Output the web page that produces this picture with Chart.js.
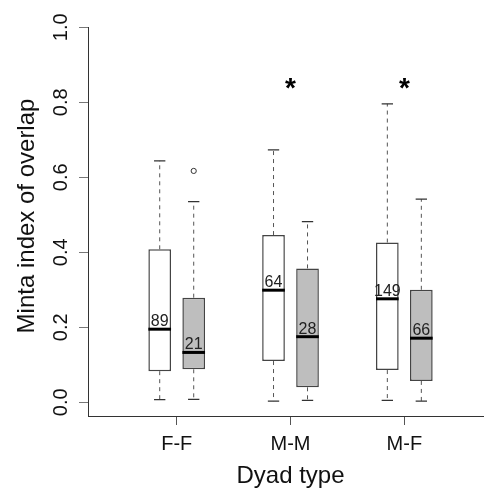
<!DOCTYPE html>
<html>
<head>
<meta charset="utf-8">
<script src="https://cdn.jsdelivr.net/npm/chart.js@4"></script>
<style>
html,body{margin:0;padding:0;background:#fff;}
#wrap{width:484px;height:489px;position:relative;}
</style>
</head>
<body>
<div id="wrap"><canvas id="c" width="484" height="489"></canvas></div>
<script>
// ---- data ----
const categories = ['F-F', 'M-M', 'M-F'];
const catPos = [1, 2, 3];
const yTickValues = [0, 0.2, 0.4, 0.6, 0.8, 1.0];
const yTickLabels = ['0.0', '0.2', '0.4', '0.6', '0.8', '1.0'];

// white boxes
const aMin    = [0.007, 0.003, 0.005];
const aQ1     = [0.083, 0.110, 0.086];
const aMedian = [0.195, 0.299, 0.276];
const aQ3     = [0.408, 0.446, 0.426];
const aMax    = [0.644, 0.673, 0.796];
const aN      = [89, 64, 149];
const aOut    = [[], [], []];

// grey boxes
const bMin    = [0.008, 0.005, 0.003];
const bQ1     = [0.088, 0.040, 0.057];
const bMedian = [0.133, 0.175, 0.171];
const bQ3     = [0.279, 0.357, 0.300];
const bMax    = [0.535, 0.482, 0.542];
const bN      = [21, 28, 66];
const bOut    = [[0.617], [], []];

const signif  = ['', '*', '*'];
const signifY = 0.848;

const yTitle = 'Minta index of overlap';
const xTitle = 'Dyad type';

const FONT = "'Liberation Sans', Arial, sans-serif";

const stats = [
  {min:aMin,q1:aQ1,med:aMedian,q3:aQ3,max:aMax,n:aN,out:aOut},
  {min:bMin,q1:bQ1,med:bMedian,q3:bQ3,max:bMax,n:bN,out:bOut}
];

const boxPlugin = {
  id: 'boxExtras',
  afterDatasetsDraw(chart) {
    const ctx = chart.ctx;
    const ys = chart.scales.y, xs = chart.scales.x;
    ctx.save();
    stats.forEach((s, d) => {
      const meta = chart.getDatasetMeta(d);
      meta.data.forEach((bar, i) => {
        const x = bar.x, w = bar.width;
        const pMin = ys.getPixelForValue(s.min[i]);
        const pQ1 = ys.getPixelForValue(s.q1[i]);
        const pMed = ys.getPixelForValue(s.med[i]);
        const pQ3 = ys.getPixelForValue(s.q3[i]);
        const pMax = ys.getPixelForValue(s.max[i]);
        // whiskers (dashed)
        ctx.strokeStyle = '#555';
        ctx.lineWidth = 1;
        ctx.setLineDash([4, 4]);
        ctx.beginPath();
        ctx.moveTo(x, pQ3); ctx.lineTo(x, pMax);
        ctx.moveTo(x, pQ1); ctx.lineTo(x, pMin);
        ctx.stroke();
        ctx.setLineDash([]);
        // caps
        ctx.strokeStyle = '#333';
        ctx.lineWidth = 1.2;
        ctx.beginPath();
        ctx.moveTo(x - w / 4, pMax); ctx.lineTo(x + w / 4, pMax);
        ctx.moveTo(x - w / 4, pMin); ctx.lineTo(x + w / 4, pMin);
        ctx.stroke();
        // median
        ctx.strokeStyle = '#000';
        ctx.lineWidth = 3;
        ctx.beginPath();
        ctx.moveTo(x - w / 2, pMed); ctx.lineTo(x + w / 2, pMed);
        ctx.stroke();
        // outliers
        s.out[i].forEach(v => {
          const py = ys.getPixelForValue(v);
          ctx.beginPath();
          ctx.arc(x, py, 2.6, 0, Math.PI * 2);
          ctx.fillStyle = '#fff';
          ctx.fill();
          ctx.strokeStyle = '#333';
          ctx.lineWidth = 1;
          ctx.stroke();
        });
        // count label
        ctx.fillStyle = '#222';
        ctx.font = '16px ' + FONT;
        ctx.textAlign = 'center';
        ctx.textBaseline = 'alphabetic';
        ctx.fillText(String(s.n[i]), x, pMed - 3);
      });
    });
    // significance stars
    ctx.fillStyle = '#000';
    ctx.font = 'bold 28px ' + FONT;
    ctx.textAlign = 'center';
    ctx.textBaseline = 'middle';
    signif.forEach((t, i) => {
      if (!t) return;
      ctx.fillText(t, xs.getPixelForValue(catPos[i]), ys.getPixelForValue(signifY) + 5);
    });
    ctx.restore();
  },
  afterDraw(chart) {
    const ctx = chart.ctx;
    const ys = chart.scales.y, xs = chart.scales.x;
    ctx.save();
    ctx.fillStyle = '#111';
    // y tick labels (rotated)
    ctx.font = '20px ' + FONT;
    ctx.textAlign = 'center';
    ctx.textBaseline = 'alphabetic';
    yTickValues.forEach((v, i) => {
      const py = ys.getPixelForValue(v);
      ctx.save();
      ctx.translate(67, py);
      ctx.rotate(-Math.PI / 2);
      ctx.fillText(yTickLabels[i], 0, 0);
      ctx.restore();
    });
    // x tick labels
    categories.forEach((c, i) => {
      ctx.fillText(c, xs.getPixelForValue(catPos[i]), 449.5);
    });
    // axis titles
    ctx.font = '24px ' + FONT;
    ctx.fillText(xTitle, xs.getPixelForValue(2), 482.5);
    ctx.save();
    ctx.translate(33.5, 216);
    ctx.rotate(-Math.PI / 2);
    ctx.fillText(yTitle, 0, 0);
    ctx.restore();
    ctx.restore();
  }
};

const mkData = (s) => catPos.map((p, i) => ({x: p, y: [s.q1[i], s.q3[i]]}));

new Chart(document.getElementById('c'), {
  type: 'bar',
  data: {
    datasets: [
      {data: mkData(stats[0]), backgroundColor: '#ffffff', borderColor: '#444', borderWidth: 1.5, borderSkipped: false},
      {data: mkData(stats[1]), backgroundColor: '#bebebe', borderColor: '#444', borderWidth: 1.5, borderSkipped: false}
    ]
  },
  options: {
    responsive: false,
    animation: false,
    devicePixelRatio: 1,
    categoryPercentage: 0.5975,
    barPercentage: 0.667,
    layout: {padding: {top: 27.3, right: 0, bottom: 0, left: 0}},
    plugins: {legend: {display: false}, tooltip: {enabled: false}},
    scales: {
      x: {
        type: 'linear',
        min: 0.2206,
        max: 3.700,
        offset: false,
        afterBuildTicks: s => { s.ticks = catPos.map(v => ({value: v})); },
        afterFit: s => { s.height = 489 - 416; },
        ticks: {display: false},
        grid: {display: true, offset: false, drawOnChartArea: false, drawTicks: true, tickLength: 9, tickColor: '#555', tickWidth: 1},
        border: {display: true, color: '#333', width: 1}
      },
      y: {
        min: -0.0365,
        max: 1.0,
        afterBuildTicks: s => { s.ticks = yTickValues.map(v => ({value: v})); },
        afterFit: s => { s.width = 88; },
        ticks: {display: false},
        grid: {display: true, offset: false, drawOnChartArea: false, drawTicks: true, tickLength: 9, tickColor: '#777', tickWidth: 1},
        border: {display: true, color: '#333', width: 1}
      }
    }
  },
  plugins: [boxPlugin]
});
</script>
</body>
</html>
